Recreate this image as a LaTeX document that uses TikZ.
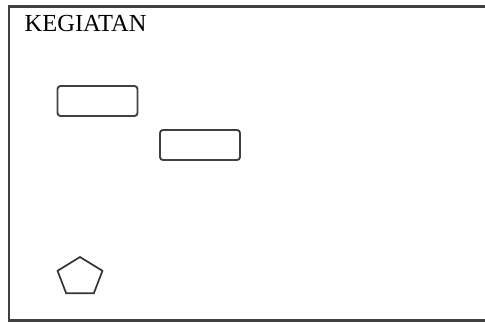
\documentclass[tikz,border=0pt]{standalone}
\usepackage{fontspec}
\setmainfont{Liberation Serif}
\usetikzlibrary{positioning, shapes.geometric}
\definecolor{mFrame}{HTML}{404040}

\begin{document}
\begin{tikzpicture}[x=1pt, y=-1pt,
    actbox/.style={draw=black!75, line width=1.9pt, rounded corners=3pt, minimum width=80pt, minimum height=30pt, inner sep=0pt},
    pentnode/.style={draw=black!80, line width=1.7pt, regular polygon, regular polygon sides=5, minimum size=40pt, inner sep=0pt}]
    \useasboundingbox (0,0) rectangle (485,323);
    % frame, open to the right
    \coordinate (tr) at (485,6.5);
    \coordinate (tl) at (9,6.5);
    \coordinate (bl) at (9,320.5);
    \coordinate (br) at (485,320.5);
    \draw[mFrame, line width=2.3pt] (tr) -- (tl) -- (bl) -- (br);
    \node[anchor=base west, inner sep=0pt, font=\fontsize{24.5}{28}\selectfont] (title) at (24.5,31.5) {KEGIATAN};
    \node[actbox] (actA) at (97.5,101) {};
    \node[actbox] (actB) at (200,145) {};
    \node[pentnode, xscale=1.18] (pent) at (80,277) {};
\end{tikzpicture}
\end{document}
